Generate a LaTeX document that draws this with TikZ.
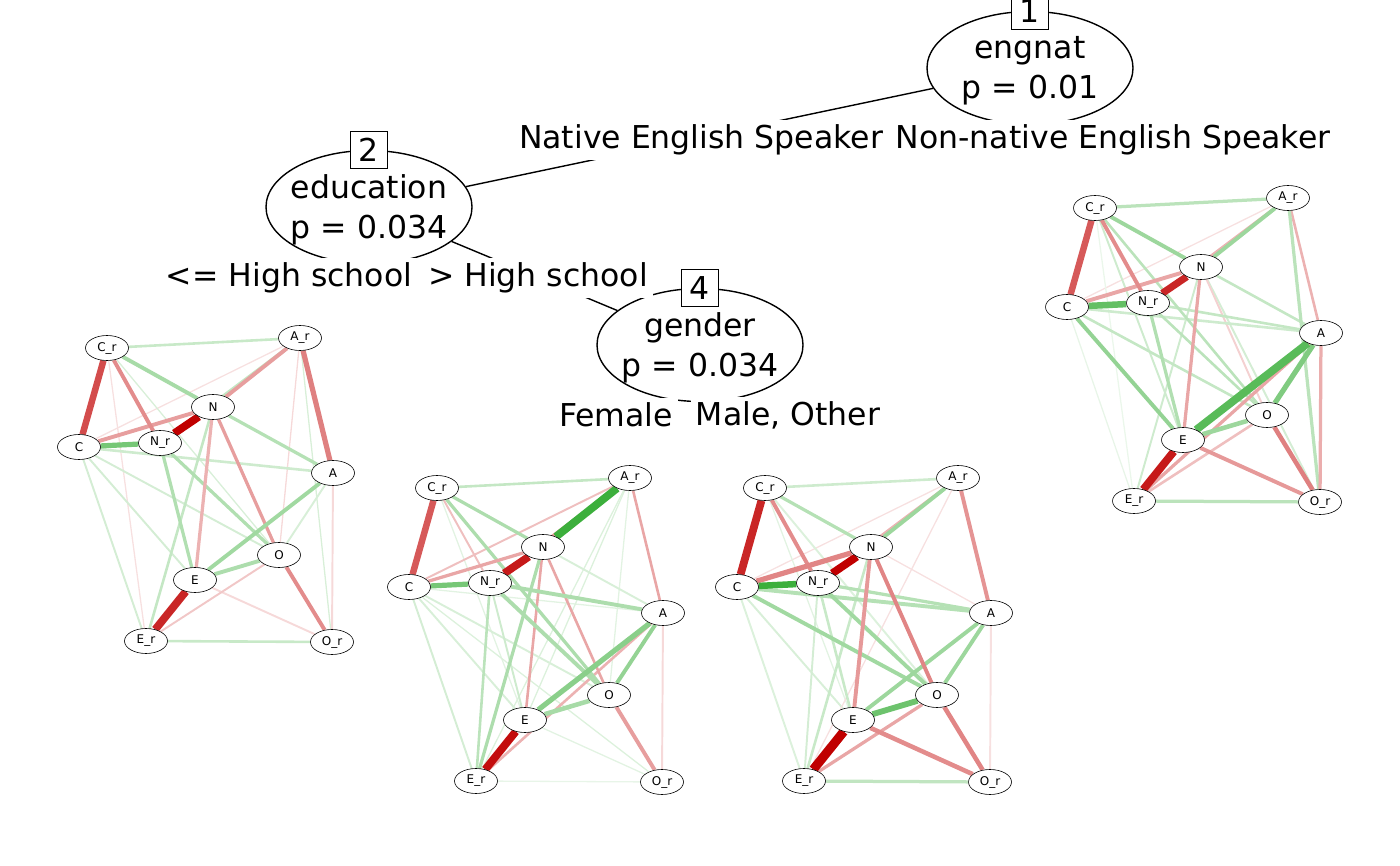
\documentclass[tikz,border=0pt]{standalone}
\usepackage{fontspec}
\setmainfont{DejaVu Sans}
\usetikzlibrary{shapes.geometric,backgrounds}
\definecolor{negc}{RGB}{192,0,0}
\definecolor{posc}{RGB}{60,175,60}
\tikzset{
  tnode/.style={draw,ellipse,line width=1.4,minimum width=206,minimum height=113,inner sep=0},
  ttext/.style={align=center,font=\fontsize{31.5}{40}\selectfont},
  tnum/.style={draw,fill=white,line width=1.3,minimum size=37,inner sep=0,font=\fontsize{31.5}{40}\selectfont},
  tlab/.style={fill=white,inner xsep=5,inner ysep=4.5,font=\fontsize{31.5}{40}\selectfont},
  tedge/.style={line width=1.4},
  pnode/.style={draw,ellipse,fill=white,line width=0.6,minimum width=43,minimum height=25,inner sep=0,font=\fontsize{12}{14}\selectfont}
}
% edges of one network: #1 network, #2 list a/b/colour/width
\newcommand{\netedges}[2]{%
  \begin{scope}[on background layer]
    \foreach \a/\b/\c/\w in {#2}
      \draw[draw=\c,line width=1.3*\w] (g#1\a) -- (g#1\b);
  \end{scope}}

\begin{document}
\begin{tikzpicture}[x=1pt,y=-1pt]
\useasboundingbox (0,0) rectangle (1400,866);
\clip (0,0) rectangle (1400,866);

% tree
\node[tnode] (t1) at (1030,68) {};
\node[tnode] (t2) at (369,207) {};
\node[tnode] (t4) at (700,345) {};
\node[ttext] at (1030,71) {engnat\\p = 0.01};
\node[ttext] at (369,210) {education\\p = 0.034};
\node[ttext] at (700,348) {gender\\p = 0.034};
\draw[tedge] (t1) -- (t2);
\draw[tedge] (t2) -- (t4);

\node[tlab] (l1a) at (701,140) {Native English Speaker};
\node[tlab] (l1b) at (1113,140) {Non-native English Speaker};
\node[tlab] (l2a) at (289,278) {<= High school};
\node[tlab] (l2b) at (538,278) {> High school};
\node[tlab] (l4a) at (616,415) {Female};
\node[tlab] (l4b) at (788,415) {Male, Other};

\node[tnum] at (t1.north) {1};
\node[tnum] at (t2.north) {2};
\node[tnum] at (t4.north) {4};

% networks
\foreach \g/\dx/\dy in {1/0/0,2/330/140,3/658/140,4/988/-140}{
  \foreach \v/\lab/\x/\y in {Cr/C\_r/107/348, Ar/A\_r/300/338, N/N/213/407,
      C/C/79/447, Nr/N\_r/160/443, A/A/333/473, O/O/279/555,
      E/E/195/580, Er/E\_r/146/641, Or/O\_r/332/642}
    \node[pnode] (g\g\v) at (\x+\dx,\y+\dy) {\lab};
}

\netedges{1}{Cr/Er/negc!12/1, Ar/C/negc!12/1, Ar/O/negc!15/1, Ar/Or/posc!20/1,
  Cr/O/posc!20/1, C/O/posc!22/1.5, C/E/posc!22/1.5, C/Er/posc!22/1.5,
  C/A/posc!25/2, A/O/posc!20/1.5, A/Or/negc!15/1.5, E/Or/negc!15/1.5,
  Er/O/negc!22/1.5, Ar/Nr/posc!30/2, N/Er/posc!30/2, Cr/Ar/posc!28/2,
  Er/Or/posc!28/2, N/A/posc!38/2.5, Nr/E/posc!40/2.5, Nr/O/posc!40/2.5,
  N/E/negc!30/2.5, N/O/negc!38/2.5, O/Or/negc!45/3, C/N/negc!38/3,
  Cr/N/posc!45/3, Cr/Nr/negc!45/3, A/E/posc!48/3, E/O/posc!42/3,
  Ar/N/negc!38/3, Ar/A/negc!50/4, C/Nr/posc!70/4, C/Cr/negc!70/5,
  E/Er/negc!85/6, N/Nr/negc!100/6}

\netedges{2}{Cr/E/posc!15/1, C/E/posc!20/1.5, C/O/posc!20/1.5, C/Er/posc!22/1.5,
  C/Or/posc!18/1, C/A/posc!15/1, Ar/E/posc!18/1, Ar/Er/posc!18/1,
  Ar/O/posc!15/1, N/A/posc!20/1.5, Nr/E/posc!25/1.5, A/Or/negc!15/1.5,
  Er/Or/posc!12/1, E/Or/posc!15/1, Cr/Nr/negc!25/1.5, Ar/C/negc!25/1.5,
  Er/A/negc!30/2, Cr/Ar/posc!30/2, Ar/A/negc!35/2, N/E/negc!35/2,
  N/O/negc!35/2, Nr/Er/posc!35/2, N/Er/posc!42/2.5, Cr/N/posc!42/2.5,
  Cr/O/posc!42/2.5, Nr/A/posc!42/3, Nr/O/posc!42/3, C/N/negc!35/2.5,
  O/Or/negc!38/3, A/O/posc!55/3, E/O/posc!45/3.5, Ar/Nr/negc!40/2.5,
  A/E/posc!60/4, C/Nr/posc!70/4, C/Cr/negc!65/5, Ar/N/posc!100/6,
  N/Nr/negc!90/6, E/Er/negc!95/6}

\netedges{3}{Ar/C/negc!12/1, Cr/E/posc!15/1, Cr/O/posc!18/1.5, C/Er/posc!18/1.5,
  C/E/posc!20/1.5, N/A/negc!12/1, A/Or/negc!12/1.5, Ar/Er/negc!12/1,
  Nr/Er/posc!22/1.5, Nr/E/posc!28/2, N/Er/posc!28/2, Cr/Ar/posc!25/2,
  Er/Or/posc!32/2.5, Ar/Nr/negc!30/2, Er/O/negc!35/2.5, Cr/N/posc!38/2.5,
  C/A/posc!38/3, Nr/A/posc!38/2.5, C/O/posc!48/3, Nr/O/posc!48/3,
  A/E/posc!50/3, A/O/posc!50/3, Ar/N/posc!50/3, N/E/negc!40/3,
  N/O/negc!48/3, O/Or/negc!48/3.5, E/Or/negc!45/3.5, Cr/Nr/negc!45/3,
  Ar/A/negc!42/3, C/N/negc!48/4, E/O/posc!75/4.5, C/Nr/posc!100/5,
  C/Cr/negc!85/6, N/Nr/negc!100/6, E/Er/negc!100/7}

\netedges{4}{Ar/C/negc!12/1, Cr/Er/posc!10/1, Cr/E/posc!25/1.5, C/Er/posc!12/1,
  N/Or/posc!22/1.5, N/O/negc!18/1.5, N/Er/posc!25/1.5, Er/O/negc!25/2,
  Cr/Ar/posc!35/2.5, C/A/posc!25/2, N/A/posc!30/2, Nr/A/posc!30/2,
  C/O/posc!30/2, Nr/O/posc!35/2, Cr/O/posc!35/2, Ar/Nr/negc!30/2,
  Ar/A/negc!30/2, Ar/Or/posc!35/2.5, A/Or/negc!32/2.5, Er/Or/posc!35/2.5,
  N/E/negc!35/2.5, Nr/E/posc!40/2.5, Cr/N/posc!50/3, Ar/N/posc!50/3,
  C/N/negc!35/3, Cr/Nr/negc!45/3, C/E/posc!55/3, A/Er/negc!35/2.5,
  E/Or/negc!40/3, O/Or/negc!50/3.5, E/O/posc!50/3.5, A/O/posc!65/4,
  C/Nr/posc!80/5, C/Cr/negc!65/5, N/Nr/negc!85/5.5, A/E/posc!85/6,
  E/Er/negc!90/6}

\end{tikzpicture}
\end{document}
